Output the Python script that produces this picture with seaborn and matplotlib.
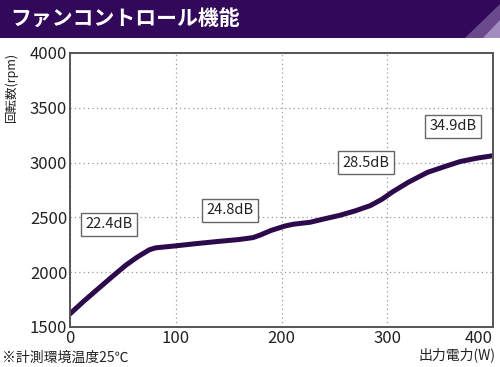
import matplotlib
matplotlib.use('Agg')
import matplotlib.pyplot as plt
import seaborn as sns
import pandas as pd
from matplotlib.patches import Rectangle, Polygon

# データ（出力電力 W / 回転数 rpm）
watts = [0, 13, 27, 40, 53, 64, 75, 81, 100, 119, 140, 160, 173, 180, 190,
         203, 211, 227, 240, 255, 270, 284, 295, 305, 320, 338, 355, 369, 385, 400]
rpm = [1620, 1735, 1852, 1960, 2065, 2140, 2204, 2222, 2240, 2260, 2280, 2298,
       2315, 2339, 2380, 2420, 2437, 2455, 2485, 2518, 2560, 2607, 2665, 2732,
       2820, 2910, 2965, 3009, 3040, 3062]

noise_labels = ['22.4dB', '24.8dB', '28.5dB', '34.9dB']
noise_x = [37, 151, 280, 362]
noise_y = [2435, 2565, 3000, 3330]

x_ticks = [0, 100, 200, 300, 400]
y_ticks = [1500, 2000, 2500, 3000, 3500, 4000]

df = pd.DataFrame({'W': watts, 'rpm': rpm})

sns.set_theme(style='white')
plt.rcParams['font.family'] = ['Noto Sans CJK JP', 'DejaVu Sans']

fig = plt.figure(figsize=(5.0, 3.67), dpi=100)
fig.patch.set_facecolor('white')

# タイトル帯
fig.patches.append(Rectangle((0, 0.8965), 1, 0.1035, transform=fig.transFigure,
                             facecolor='#32085a', edgecolor='none', zorder=0))
fig.patches.append(Polygon([(0.93, 0.8965), (1, 0.8965), (1, 0.99)], closed=True,
                           transform=fig.transFigure, facecolor='#6a4a8c',
                           edgecolor='none', zorder=1))
fig.patches.append(Polygon([(0.965, 0.8965), (1, 0.8965), (1, 0.945)], closed=True,
                           transform=fig.transFigure, facecolor='#a48cc0',
                           edgecolor='none', zorder=1))
fig.text(0.02, 0.947, 'ファンコントロール機能', color='white', fontsize=15,
         fontweight='bold', va='center', ha='left')

ax = fig.add_axes([0.14, 0.109, 0.846, 0.747])
sns.lineplot(data=df, x='W', y='rpm', ax=ax, color='#2c0a4c', linewidth=3.6)

ax.set_xlim(0, 400)
ax.set_ylim(1500, 4000)
ax.set_xticks(x_ticks)
ax.set_yticks(y_ticks)
ax.tick_params(axis='both', labelsize=12, length=0, pad=2, colors='#222222')
# 右端の「400」は枠内に収める
ax.get_xticklabels()[-1].set_horizontalalignment('right')
ax.set_xlabel('')
ax.set_ylabel('')
ax.grid(True, linestyle=(0, (1, 2.5)), color='#999999', linewidth=0.9)
for s in ax.spines.values():
    s.set_color('#555555')
    s.set_linewidth(1.4)

for lab, xv, yv in zip(noise_labels, noise_x, noise_y):
    ax.text(xv, yv, lab, fontsize=10.5, ha='center', va='center', color='#222222',
            bbox=dict(boxstyle='square,pad=0.3', facecolor='white',
                      edgecolor='#666666', linewidth=1.0))

fig.text(0.022, 0.86, '回転数(rpm)', rotation=90, fontsize=9, ha='center',
         va='top', color='#222222')
fig.text(0.99, 0.032, '出力電力(W)', fontsize=10, ha='right', va='center',
         color='#222222')
fig.text(0.004, 0.025, '※計測環境温度25℃', fontsize=10, ha='left', va='center',
         color='#222222')

fig.savefig('out.png', dpi=100)
